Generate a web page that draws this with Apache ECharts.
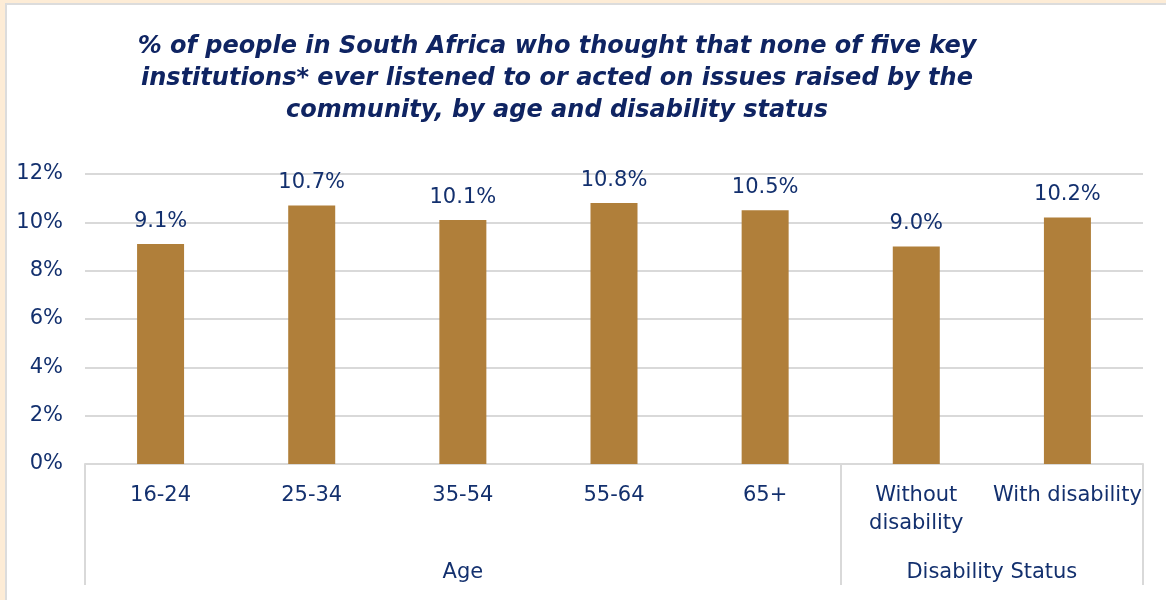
<!DOCTYPE html>
<html>
<head>
<meta charset="utf-8">
<script src="https://cdn.jsdelivr.net/npm/echarts@6/dist/echarts.min.js"></script>
<style>
  html, body { margin: 0; padding: 0; background: #fdecd6; }
  #chart {
    position: absolute; left: 5px; top: 3px;
    width: 1161px; height: 597px;
    background: #ffffff;
    box-sizing: border-box;
    border-left: 2px solid #dcdcdc; border-top: 2px solid #dcdcdc;
  }
</style>
</head>
<body>
<div id="chart"></div>
<script>
// categories and values
var categories = ['16-24', '25-34', '35-54', '55-64', '65+', 'Without\ndisability', 'With disability'];
var values = [9.1, 10.7, 10.1, 10.8, 10.5, 9.0, 10.2];
// grouping under the category labels
var groupNames = ['Age', 'Disability Status'];
var groupSizes = [5, 2];
var yTicks = [0, 2, 4, 6, 8, 10, 12];

var textColor = '#13306e';
var lineColor = '#d9d9d9';
var font = 'Tahoma, "DejaVu Sans", sans-serif';

// group boundaries and centres on a 0..n scale
var bounds = [0], centres = [];
groupSizes.forEach(function (s, i) {
  centres.push(bounds[i] + s / 2);
  bounds.push(bounds[i] + s);
});

var myChart = echarts.init(document.getElementById('chart'));
myChart.setOption({
  animation: false,
  title: {
    text: '% of people in South Africa who thought that none of five key\ninstitutions* ever listened to or acted on issues raised by the\ncommunity, by age and disability status',
    left: 545,
    top: 21,
    textAlign: 'center',
    textStyle: {
      fontFamily: font,
      fontSize: 24,
      fontWeight: 'bold',
      fontStyle: 'italic',
      color: '#0f2462',
      lineHeight: 32
    }
  },
  grid: {
    left: 78,
    right: 23,
    top: 169,
    bottom: 136,
    outerBoundsMode: 'none'
  },
  xAxis: [{
    type: 'category',
    data: categories,
    axisLine: { show: true, lineStyle: { color: lineColor, width: 2 } },
    axisTick: { show: false },
    axisLabel: {
      color: textColor,
      fontFamily: font,
      fontSize: 21,
      lineHeight: 28,
      margin: 18,
      interval: 0
    }
  }, {
    type: 'value',
    position: 'bottom',
    min: 0,
    max: categories.length,
    axisLine: { show: false },
    splitLine: { show: false },
    axisTick: {
      show: true,
      customValues: bounds,
      length: 121,
      lineStyle: { color: lineColor, width: 2 }
    },
    axisLabel: {
      customValues: centres,
      color: textColor,
      fontFamily: font,
      fontSize: 21,
      margin: 98,
      formatter: function (v) {
        return groupNames[centres.indexOf(v)];
      }
    }
  }],
  yAxis: {
    type: 'value',
    min: yTicks[0],
    max: yTicks[yTicks.length - 1],
    interval: 2,
    axisLine: { show: false },
    axisTick: { show: false },
    splitLine: { lineStyle: { color: lineColor, width: 2 } },
    axisLabel: {
      color: textColor,
      fontFamily: font,
      fontSize: 21,
      margin: 22,
      formatter: '{value}%'
    }
  },
  series: [{
    type: 'bar',
    xAxisIndex: 0,
    data: values,
    barWidth: 47,
    itemStyle: { color: '#b07f3a' },
    label: {
      show: true,
      position: 'top',
      distance: 12,
      color: textColor,
      fontFamily: font,
      fontSize: 21,
      formatter: function (p) { return p.value.toFixed(1) + '%'; }
    }
  }]
});
</script>
</body>
</html>
